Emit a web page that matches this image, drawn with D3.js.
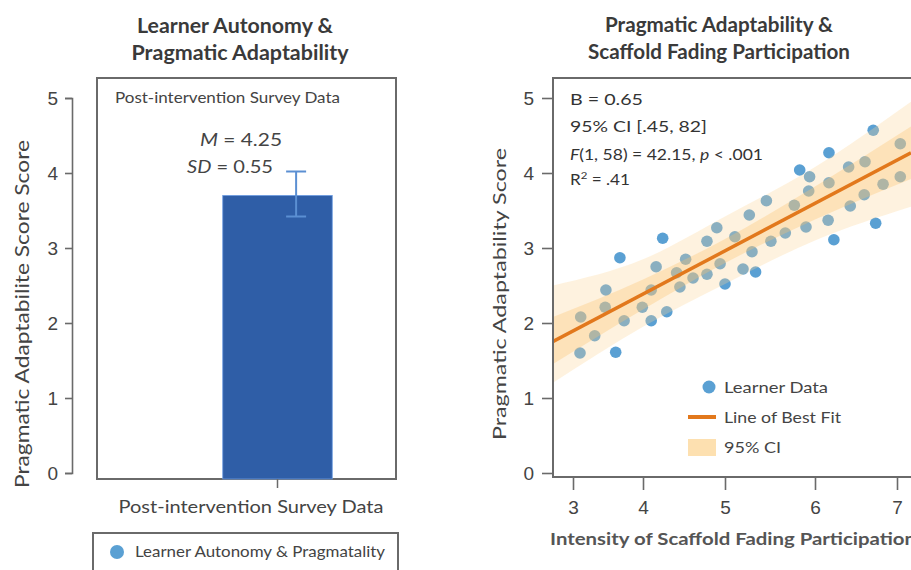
<!DOCTYPE html>
<html>
<head>
<meta charset="utf-8">
<script src="https://cdn.jsdelivr.net/npm/d3@7"></script>
<style>
  body { margin: 0; background: #fff; }
  svg { display: block; font-family: Lato, "Open Sans", sans-serif; }
</style>
</head>
<body>
<svg id="chart"></svg>
<script>
// left panel: single bar
const barCategories = ['Post-intervention Survey Data']
const barValues = [3.7]
const barErrLow = [3.42]
const barErrHigh = [4.02]
const yTicks = [0, 1, 2, 3, 4, 5]

// right panel: learner data
const scatterX = [3.10, 3.31, 3.61, 3.11, 3.46, 3.47, 3.67, 3.73, 3.99, 4.10,
  4.10, 4.16, 4.24, 4.29, 4.41, 4.45, 4.52, 4.61, 4.78, 4.78,
  4.90, 4.94, 5.00, 5.11, 5.20, 5.27, 5.30, 5.34, 5.46, 5.51,
  5.67, 5.77, 5.83, 5.90, 5.93, 5.94, 6.17, 6.17, 6.16, 6.23,
  6.41, 6.43, 6.60, 6.61, 6.74, 6.71, 6.83, 7.04, 7.04]
const scatterY = [1.60, 1.83, 1.61, 2.08, 2.21, 2.44, 2.87, 2.03, 2.21, 2.03,
  2.44, 2.75, 3.13, 2.15, 2.67, 2.48, 2.85, 2.60, 2.65, 3.09,
  3.27, 2.79, 2.52, 3.15, 2.72, 3.44, 2.95, 2.68, 3.63, 3.09,
  3.20, 3.57, 4.04, 3.28, 3.76, 3.95, 4.27, 3.87, 3.37, 3.11,
  4.08, 3.56, 3.71, 4.15, 3.33, 4.57, 3.85, 4.39, 3.95]
const fitX = [2.71, 7.17]
const fitY = [1.75, 4.27]
const bandX = [2.71, 4, 5, 6, 7.17]
const outerLow = [1.20, 1.95, 2.52, 3.10, 3.55]
const outerHigh = [2.50, 2.85, 3.42, 4.08, 4.95]
const innerLow = [1.45, 2.18, 2.80, 3.38, 3.92]
const innerHigh = [2.08, 2.58, 3.12, 3.82, 4.62]
const xTicks = [3, 4, 5, 6, 7]

const WIDTH = 911
const HEIGHT = 570
const TEXT = '#444'
const FRAME = '#6a6a6a'
const BLUE_PT = '#5aa0d3'

// the reference lettering is wide, so stretch labels to the measured length
function fit(sel, len) {
  return sel.attr('textLength', len).attr('lengthAdjust', 'spacingAndGlyphs')
}

const svg = d3.select('#chart')
  .attr('width', WIDTH)
  .attr('height', HEIGHT)

// ---------- left panel ----------
const yL = d3.scaleLinear().domain([0, 5]).range([473, 98])
const xL = d3.scaleBand()
  .domain(barCategories)
  .range([168, 387])
  .paddingInner(0)
  .paddingOuter(0.5)

function title(x, y, txt, len) {
  fit(svg.append('text')
    .attr('x', x).attr('y', y)
    .attr('text-anchor', 'middle')
    .style('font-size', '20px').style('font-weight', 700).style('fill', '#3a3a3a')
    .text(txt), len)
}
title(235, 33, 'Learner Autonomy &', 196)
title(240, 60, 'Pragmatic Adaptability', 217)

const leftAxis = svg.append('g')
  .attr('transform', 'translate(72,0)')
  .call(d3.axisLeft(yL).tickValues(yTicks).tickSize(7).tickPadding(7).tickFormat(d3.format('d')))
leftAxis.selectAll('path, line').attr('stroke', FRAME).attr('stroke-width', 1.6)
leftAxis.selectAll('text').style('font-size', '19px').style('fill', TEXT)

// frame
svg.append('rect')
  .attr('x', 97).attr('y', 78)
  .attr('width', 299).attr('height', 401)
  .attr('fill', 'none').attr('stroke', FRAME).attr('stroke-width', 2)

svg.selectAll('.bar')
  .data(barCategories)
  .enter().append('rect')
  .attr('class', 'bar')
  .attr('x', d => xL(d))
  .attr('y', (d, i) => yL(barValues[i]))
  .attr('width', xL.bandwidth())
  .attr('height', (d, i) => yL(0) + 6 - yL(barValues[i]))
  .attr('fill', '#2f5ea7')
  .attr('stroke', '#6b9be0').attr('stroke-width', 0.8)

const errX = xL(barCategories[0]) + xL.bandwidth() * 0.67
svg.append('line')
  .attr('x1', errX).attr('x2', errX)
  .attr('y1', yL(barErrLow[0])).attr('y2', yL(barErrHigh[0]))
  .attr('stroke', '#5b8fd2').attr('stroke-width', 2)
for (const v of [barErrLow[0], barErrHigh[0]]) {
  svg.append('line')
    .attr('x1', errX - 10).attr('x2', errX + 10)
    .attr('y1', yL(v)).attr('y2', yL(v))
    .attr('stroke', '#5b8fd2').attr('stroke-width', 2)
}

// category tick + label
const cx = xL(barCategories[0]) + xL.bandwidth() / 2
svg.append('line')
  .attr('x1', cx).attr('x2', cx).attr('y1', 479).attr('y2', 488)
  .attr('stroke', FRAME).attr('stroke-width', 1.5)
fit(svg.append('text')
  .attr('x', 251).attr('y', 513)
  .attr('text-anchor', 'middle')
  .style('font-size', '18px').style('fill', TEXT)
  .text(barCategories[0]), 265)

fit(svg.append('text')
  .attr('x', 115).attr('y', 103)
  .style('font-size', '15px').style('fill', TEXT)
  .text('Post-intervention Survey Data'), 225)

const mText = svg.append('text')
  .attr('x', 241).attr('y', 146)
  .attr('text-anchor', 'middle')
  .style('font-size', '18px').style('fill', TEXT)
mText.append('tspan').style('font-style', 'italic').text('M')
mText.append('tspan').text(' = 4.25')
fit(mText, 82)
const sdText = svg.append('text')
  .attr('x', 230).attr('y', 173)
  .attr('text-anchor', 'middle')
  .style('font-size', '18px').style('fill', TEXT)
sdText.append('tspan').style('font-style', 'italic').text('SD')
sdText.append('tspan').text(' = 0.55')
fit(sdText, 86)

fit(svg.append('text')
  .attr('transform', 'translate(29,314) rotate(-90)')
  .attr('text-anchor', 'middle')
  .style('font-size', '19px').style('fill', TEXT)
  .text('Pragmatic Adaptabilite Score Score'), 348)

// legend (left)
svg.append('rect')
  .attr('x', 93).attr('y', 533)
  .attr('width', 305).attr('height', 50)
  .attr('fill', 'none').attr('stroke', FRAME).attr('stroke-width', 2)
svg.append('circle')
  .attr('cx', 117).attr('cy', 552).attr('r', 7)
  .attr('fill', BLUE_PT)
fit(svg.append('text')
  .attr('x', 135).attr('y', 557)
  .style('font-size', '15px').style('fill', TEXT)
  .text('Learner Autonomy & Pragmatality'), 250)

// ---------- right panel ----------
const xR = d3.scaleLinear().domain(xTicks).range([573, 643, 725, 815, 897])
const yR = d3.scaleLinear().domain([0, 5]).range([473, 98])

title(719, 32, 'Pragmatic Adaptability &', 228)
title(719, 59, 'Scaffold Fading Participation', 262)

svg.append('defs').append('clipPath').attr('id', 'plotclip')
  .append('rect').attr('x', 553).attr('y', 78).attr('width', 370).attr('height', 399)

const plot = svg.append('g').attr('clip-path', 'url(#plotclip)')

const bandIdx = d3.range(bandX.length)
const outerArea = d3.area()
  .x(i => xR(bandX[i]))
  .y0(i => yR(outerLow[i]))
  .y1(i => yR(outerHigh[i]))
  .curve(d3.curveMonotoneX)
const innerArea = d3.area()
  .x(i => xR(bandX[i]))
  .y0(i => yR(innerLow[i]))
  .y1(i => yR(innerHigh[i]))
  .curve(d3.curveMonotoneX)

plot.selectAll('.pt')
  .data(scatterX)
  .enter().append('circle')
  .attr('class', 'pt')
  .attr('cx', d => xR(d))
  .attr('cy', (d, i) => yR(scatterY[i]))
  .attr('r', 5.8)
  .attr('fill', BLUE_PT)

plot.append('path').datum(bandIdx)
  .attr('d', outerArea)
  .attr('fill', '#fcd595').attr('opacity', 0.3)
plot.append('path').datum(bandIdx)
  .attr('d', innerArea)
  .attr('fill', '#fbc26e').attr('opacity', 0.33)

plot.append('path').datum(d3.range(fitX.length))
  .attr('d', d3.line().x(i => xR(fitX[i])).y(i => yR(fitY[i])))
  .attr('fill', 'none').attr('stroke', '#e2781c').attr('stroke-width', 3.5)

// frame lines
svg.append('path')
  .attr('d', 'M915,78H553V477H915')
  .attr('fill', 'none').attr('stroke', FRAME).attr('stroke-width', 2)

const rightY = svg.append('g')
  .attr('transform', 'translate(553,0)')
  .call(d3.axisLeft(yR).tickValues(yTicks).tickSize(11).tickPadding(8).tickFormat(d3.format('d')))
rightY.select('.domain').remove()
rightY.selectAll('line').attr('stroke', FRAME).attr('stroke-width', 1.6)
rightY.selectAll('text').style('font-size', '19px').style('fill', TEXT)

const rightX = svg.append('g')
  .attr('transform', 'translate(0,478)')
  .call(d3.axisBottom(xR).tickValues(xTicks).tickSize(12).tickPadding(11).tickFormat(d3.format('d')))
rightX.select('.domain').remove()
rightX.selectAll('line').attr('stroke', FRAME).attr('stroke-width', 1.6)
rightX.selectAll('text').style('font-size', '19px').style('fill', TEXT)

fit(svg.append('text')
  .attr('x', 550).attr('y', 545)
  .style('font-size', '17px').style('font-weight', 700).style('fill', '#555')
  .text('Intensity of Scaffold Fading Participation'), 366)

fit(svg.append('text')
  .attr('transform', 'translate(506,294) rotate(-90)')
  .attr('text-anchor', 'middle')
  .style('font-size', '18px').style('fill', TEXT)
  .text('Pragmatic Adaptability Score'), 292)

// stats block
const statG = svg.append('g').style('font-size', '15px').style('fill', '#333')
fit(statG.append('text').attr('x', 570).attr('y', 105).text('B = 0.65'), 73)
fit(statG.append('text').attr('x', 570).attr('y', 132).text('95% CI  [.45, 82]'), 137)
const fT = statG.append('text').attr('x', 570).attr('y', 160)
fT.append('tspan').style('font-style', 'italic').text('F')
fT.append('tspan').text('(1, 58) = 42.15, ')
fT.append('tspan').style('font-style', 'italic').text('p')
fT.append('tspan').text(' < .001')
fit(fT, 193)
const rT = statG.append('text').attr('x', 570).attr('y', 185)
rT.append('tspan').text('R')
rT.append('tspan').attr('dy', -6).style('font-size', '10px').text('2')
rT.append('tspan').attr('dy', 6).text(' = .41')
fit(rT, 60)

// legend (right)
const legR = svg.append('g').style('font-size', '16px').style('fill', TEXT)
legR.append('circle').attr('cx', 709).attr('cy', 387).attr('r', 6.5).attr('fill', BLUE_PT)
fit(legR.append('text').attr('x', 724).attr('y', 393).text('Learner Data'), 104)
legR.append('line').attr('x1', 688).attr('x2', 716).attr('y1', 417).attr('y2', 417)
  .attr('stroke', '#e2781c').attr('stroke-width', 4)
fit(legR.append('text').attr('x', 724).attr('y', 423).text('Line of Best Fit'), 117)
legR.append('rect').attr('x', 688).attr('y', 439).attr('width', 28).attr('height', 17)
  .attr('fill', '#fde0b0')
fit(legR.append('text').attr('x', 724).attr('y', 453).text('95% CI'), 57)
</script>
</body>
</html>
